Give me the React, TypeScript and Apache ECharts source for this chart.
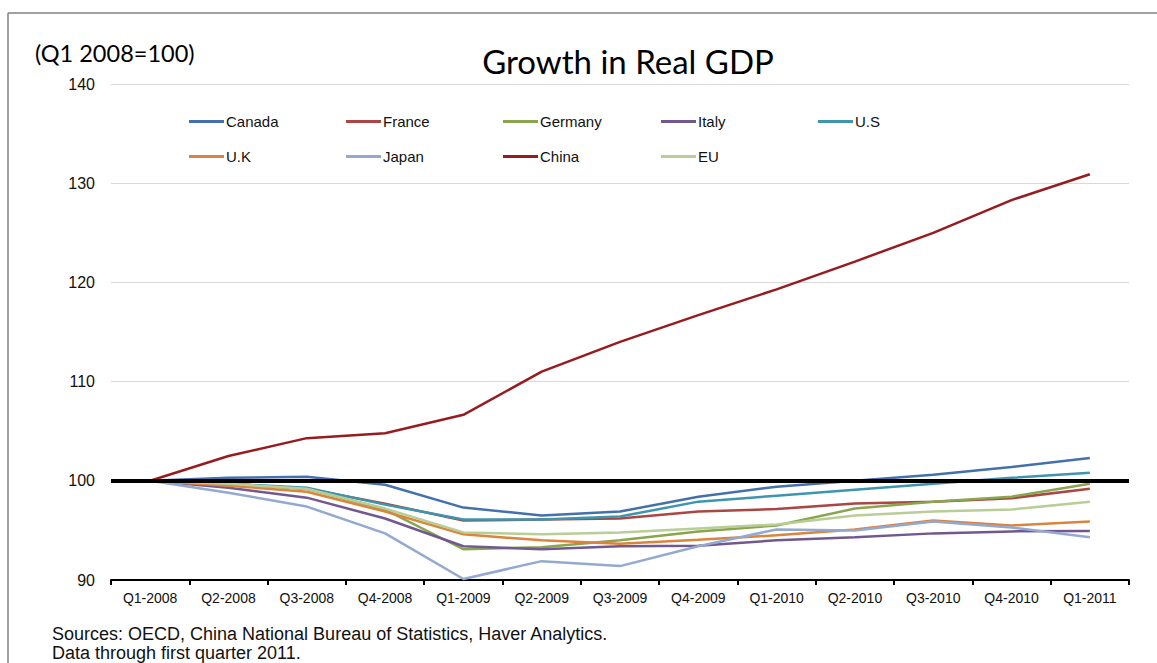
import React, { useEffect, useRef } from "react";
import * as echarts from "echarts";

const quarters = ["Q1-2008", "Q2-2008", "Q3-2008", "Q4-2008", "Q1-2009", "Q2-2009", "Q3-2009", "Q4-2009", "Q1-2010", "Q2-2010", "Q3-2010", "Q4-2010", "Q1-2011"];

const canada = [100, 100.3, 100.4, 99.6, 97.3, 96.5, 96.9, 98.4, 99.4, 100.0, 100.6, 101.4, 102.3];
const france = [100, 99.7, 99.2, 97.7, 96.0, 96.1, 96.2, 96.9, 97.15, 97.7, 97.9, 98.25, 99.2];
const germany = [100, 99.7, 99.2, 97.1, 93.1, 93.3, 94.0, 94.9, 95.5, 97.2, 97.9, 98.4, 99.7];
const italy = [100, 99.3, 98.3, 96.2, 93.4, 93.1, 93.4, 93.45, 94.0, 94.3, 94.7, 94.9, 94.95];
const us = [100, 99.7, 99.3, 97.6, 96.1, 96.1, 96.4, 97.9, 98.5, 99.1, 99.7, 100.3, 100.8];
const uk = [100, 99.5, 98.9, 96.9, 94.6, 94.0, 93.65, 94.05, 94.5, 95.1, 96.0, 95.5, 95.9];
const japan = [100, 98.8, 97.4, 94.7, 90.1, 91.9, 91.4, 93.4, 95.1, 95.0, 95.9, 95.3, 94.3];
const china = [100, 102.5, 104.3, 104.8, 106.65, 111.0, 114.0, 116.7, 119.3, 122.1, 125.0, 128.3, 130.9];
const eu = [100, 99.7, 99.2, 97.2, 94.8, 94.6, 94.8, 95.2, 95.6, 96.5, 96.9, 97.1, 97.9];

const seriesNames = ["Canada", "France", "Germany", "Italy", "U.S", "U.K", "Japan", "China", "EU"];
const seriesData = [canada, france, germany, italy, us, uk, japan, china, eu];
const seriesColors = ["#4470AB", "#AA4643", "#89A54E", "#71588F", "#3D96AE", "#DB843D", "#93A9CF", "#961C1F", "#B9CD96"];

const baseline = 100;
const title = "Growth in Real GDP";
const subtitle = "(Q1 2008=100)";
const sourceLines = ["Sources: OECD, China National Bureau of Statistics, Haver Analytics.", "Data through first quarter 2011."];

const FONT = "'Liberation Sans', Arial, sans-serif";
const TITLE_FONT = "Lato, 'Open Sans', sans-serif";

export default function App() {
  const ref = useRef<HTMLDivElement>(null);
  useEffect(() => {
    if (!ref.current) return;
    const chart = echarts.init(ref.current, undefined, { renderer: "svg" });

    const legendCols = [189, 346, 503, 661, 818];
    const legends = seriesNames.map((name, i) => ({
      data: [name],
      left: legendCols[i % 5],
      top: i < 5 ? 114 : 149,
      padding: 0,
      icon: "rect",
      itemWidth: 35,
      itemHeight: 3,
      itemGap: 0,
      selectedMode: false,
      textStyle: { fontFamily: FONT, fontSize: 15, color: "#111", padding: [0, 0, 0, -3] },
    }));

    const series: any[] = [
      {
        name: "__base",
        type: "line",
        data: [],
        silent: true,
        markLine: {
          silent: true,
          symbol: "none",
          label: { show: false },
          lineStyle: { color: "#000", width: 4, type: "solid" },
          data: [{ yAxis: baseline }],
        },
      },
    ];
    seriesNames.forEach((name, i) => {
      series.push({
        name,
        type: "line",
        data: seriesData[i],
        showSymbol: false,
        symbol: "none",
        lineStyle: { color: seriesColors[i], width: 2.5 },
        itemStyle: { color: seriesColors[i] },
        emphasis: { disabled: true },
      });
    });

    chart.setOption({
      animation: false,
      backgroundColor: "#fff",
      grid: { left: 111, right: 28, top: 84, bottom: 83 },
      legend: legends,
      xAxis: {
        type: "category",
        data: quarters,
        boundaryGap: true,
        axisLine: { show: true, lineStyle: { color: "#000", width: 2 } },
        axisTick: { show: true, length: 5, lineStyle: { color: "#000", width: 2 } },
        axisLabel: { fontFamily: FONT, fontSize: 14, color: "#111", margin: 11, interval: 0 },
        splitLine: { show: false },
      },
      yAxis: {
        type: "value",
        min: 90,
        max: 140,
        interval: 10,
        axisLine: { show: false },
        axisTick: { show: false },
        axisLabel: { fontFamily: FONT, fontSize: 16, color: "#111", margin: 16 },
        splitLine: { show: true, lineStyle: { color: "#d9d9d9", width: 1 } },
      },
      series,
      graphic: [
        { type: "line", shape: { x1: 8, y1: 13, x2: 1157, y2: 13 }, style: { stroke: "#808080", lineWidth: 1.5 } },
        { type: "line", shape: { x1: 8, y1: 13, x2: 8, y2: 663 }, style: { stroke: "#808080", lineWidth: 1.5 } },
        {
          type: "text",
          x: 628,
          y: 61,
          style: { text: title, fontFamily: TITLE_FONT, fontSize: 33, fill: "#000", align: "center", verticalAlign: "middle" },
        },
        {
          type: "text",
          x: 35,
          y: 53,
          style: { text: subtitle, fontFamily: TITLE_FONT, fontSize: 23.5, fill: "#000", align: "left", verticalAlign: "middle" },
        },
        {
          type: "text",
          x: 52,
          y: 634,
          style: { text: sourceLines[0], fontFamily: FONT, fontSize: 18, fill: "#111", align: "left", verticalAlign: "middle" },
        },
        {
          type: "text",
          x: 52,
          y: 653,
          style: { text: sourceLines[1], fontFamily: FONT, fontSize: 18, fill: "#111", align: "left", verticalAlign: "middle" },
        },
      ],
    });
    return () => chart.dispose();
  }, []);
  return <div ref={ref} style={{ position: "absolute", left: 0, top: 0, width: 1157, height: 663 }} />;
}
